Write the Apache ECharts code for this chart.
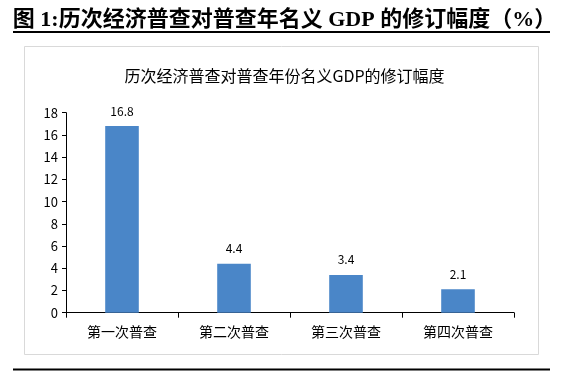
<!DOCTYPE html>
<html><head><meta charset="utf-8">
<script src="https://cdn.jsdelivr.net/npm/echarts@6/dist/echarts.min.js"></script>
<style>html,body{margin:0;padding:0;background:#fff}#c{width:569px;height:379px}</style>
</head><body><div id="c"></div>
<script>
const categories = ['第一次普查','第二次普查','第三次普查','第四次普查'];
const values = [16.8, 4.4, 3.4, 2.1];
const yTicks = [0, 2, 4, 6, 8, 10, 12, 14, 16, 18];
const pageTitle = '图 1:历次经济普查对普查年名义 GDP 的修订幅度（%）';
const chartTitle = '历次经济普查对普查年份名义GDP的修订幅度';

const chart = echarts.init(document.getElementById('c'), null, {renderer: 'canvas'});
const font = '"Noto Sans CJK SC", "Noto Sans", sans-serif';
chart.setOption({
  animation: false,
  backgroundColor: '#fff',
  title: [
    {text: pageTitle, left: 'center', top: 4,
     textStyle: {fontSize: 22, fontWeight: 'bold', color: '#000', fontFamily: '"Liberation Serif", "Noto Sans CJK SC", serif'}},
    {text: chartTitle, left: 'center', top: 63,
     textStyle: {fontSize: 16, fontWeight: 'normal', color: '#000', fontFamily: font}}
  ],
  graphic: [
    {type: 'line', shape: {x1: 13, y1: 32, x2: 550, y2: 32}, style: {stroke: '#000', lineWidth: 2}},
    {type: 'rect', shape: {x: 24.5, y: 46.5, width: 514, height: 308}, style: {fill: 'none', stroke: '#d9d9d9', lineWidth: 1}},
    {type: 'line', shape: {x1: 13, y1: 369.5, x2: 550, y2: 369.5}, style: {stroke: '#000', lineWidth: 2}}
  ],
  grid: {left: 66, right: 55, top: 112.7, bottom: 66.3},
  xAxis: {
    type: 'category', data: categories,
    axisLine: {lineStyle: {color: '#000', width: 1}},
    axisTick: {show: true, alignWithLabel: false, length: 5, lineStyle: {color: '#000'}},
    axisLabel: {fontSize: 14, color: '#000', margin: 12, fontFamily: font}
  },
  yAxis: {
    type: 'value', min: yTicks[0], max: yTicks[yTicks.length - 1], interval: 2,
    axisLine: {show: true, lineStyle: {color: '#000', width: 1}},
    axisTick: {show: true, length: 4, lineStyle: {color: '#000'}},
    splitLine: {show: false},
    axisLabel: {fontSize: 13, color: '#000', margin: 8, fontFamily: font}
  },
  series: [{
    type: 'bar', data: values, barWidth: '30%',
    itemStyle: {color: '#4A86C8'},
    label: {show: true, position: 'top', distance: 9, fontSize: 12, color: '#000', fontFamily: font,
            formatter: p => p.value.toFixed(1)}
  }]
});
</script></body></html>
